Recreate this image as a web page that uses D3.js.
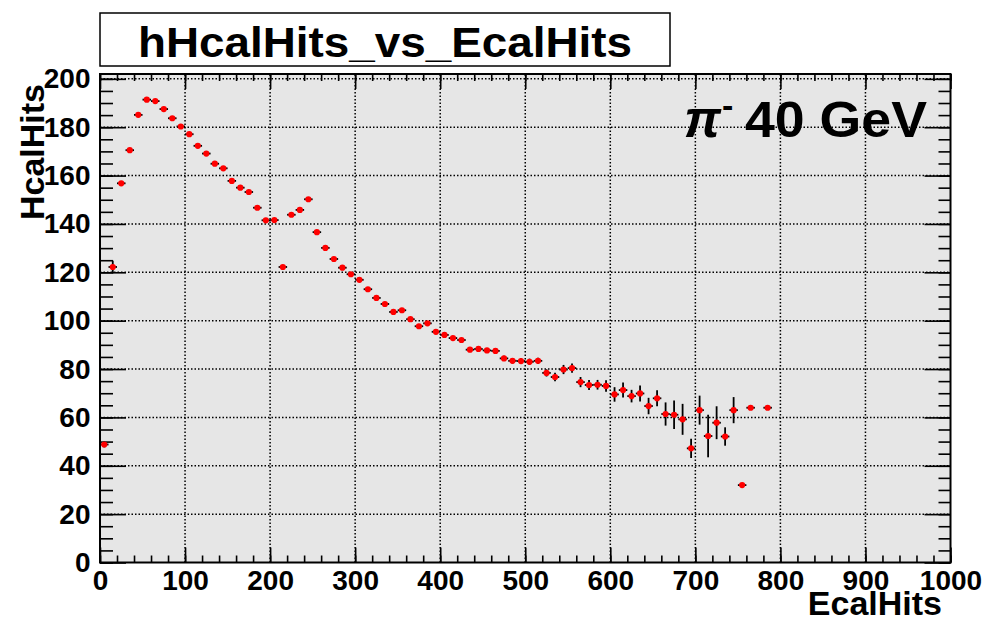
<!DOCTYPE html>
<html>
<head>
<meta charset="utf-8">
<script src="https://cdn.jsdelivr.net/npm/d3@7"></script>
<style>
  body { margin: 0; background: #fff; }
  text { font-family: "Liberation Sans", Arial, sans-serif; font-weight: bold; fill: #000; }
</style>
</head>
<body>
<div id="chart"></div>
<script>
// profile bins: centre of each EcalHits bin (width 10), mean HcalHits and its error
const binWidth = 10;
const ecalBins = [5, 15, 25, 35, 45, 55, 65, 75, 85, 95,
  105, 115, 125, 135, 145, 155, 165, 175, 185, 195,
  205, 215, 225, 235, 245, 255, 265, 275, 285, 295,
  305, 315, 325, 335, 345, 355, 365, 375, 385, 395,
  405, 415, 425, 435, 445, 455, 465, 475, 485, 495,
  505, 515, 525, 535, 545, 555, 565, 575, 585, 595,
  605, 615, 625, 635, 645, 655, 665, 675, 685, 695,
  705, 715, 725, 735, 745, 755, 765, 785];
const hcalMeans = [48.8, 122.2, 156.8, 170.5, 185.1, 191.4, 190.8, 187.5, 183.7, 180.3,
  177.1, 172.3, 169.1, 164.9, 163.0, 157.8, 155.0, 153.2, 146.7, 141.5,
  141.6, 122.2, 143.8, 145.8, 150.2, 136.6, 130.1, 125.5, 121.9, 119.2,
  116.9, 113.0, 109.4, 106.9, 103.6, 104.3, 100.6, 97.7, 98.9, 95.4,
  94.1, 92.8, 92.0, 88.0, 88.3, 87.7, 87.5, 84.4, 83.4, 83.3,
  83.0, 83.4, 78.4, 76.7, 79.8, 80.4, 74.6, 73.4, 73.5, 73.0,
  69.5, 71.3, 68.8, 69.9, 64.7, 67.9, 61.4, 61.1, 59.2, 47.2,
  63.0, 52.3, 57.8, 52.1, 63.0, 32.0, 64.0, 64.0];
const hcalErrors = [1.2, 2.6, 0.8, 0.8, 0.7, 0.6, 0.6, 0.6, 0.6, 0.6,
  0.6, 0.6, 0.6, 0.6, 0.6, 0.6, 0.7, 0.7, 0.7, 0.7,
  0.8, 0.8, 0.8, 0.8, 0.8, 0.8, 0.8, 0.8, 0.8, 0.8,
  0.8, 0.8, 0.8, 0.8, 0.8, 0.8, 0.9, 0.9, 0.9, 0.9,
  0.9, 0.9, 0.9, 1.0, 1.0, 1.0, 1.0, 1.1, 1.1, 1.2,
  1.3, 1.3, 1.5, 1.8, 1.9, 1.9, 2.1, 2.1, 2.0, 2.4,
  3.0, 3.1, 2.6, 3.3, 3.4, 3.3, 4.8, 5.9, 6.4, 4.0,
  6.0, 8.8, 6.8, 3.8, 5.4, 0, 0, 0];

// axis ticks
const xMajor = [0, 100, 200, 300, 400, 500, 600, 700, 800, 900, 1000];
const xMinor = d3.range(0, 1001, 20);
const yMajor = [0, 20, 40, 60, 80, 100, 120, 140, 160, 180, 200];
const yMinor = d3.range(0, 202, 5);
const xRange = [0, 1000];
const yRange = [0, 202];

const titleText = "hHcalHits_vs_EcalHits";
const xTitle = "EcalHits";
const yTitle = "HcalHits";

const width = 986, height = 621;
const margin = { top: 74, right: 35.5, bottom: 58.5, left: 100 };

const svg = d3.select("#chart").append("svg")
  .attr("width", width)
  .attr("height", height);

svg.append("rect").attr("width", width).attr("height", height).attr("fill", "#fff");

const x = d3.scaleLinear().domain(xRange).range([margin.left, width - margin.right]);
const y = d3.scaleLinear().domain(yRange).range([height - margin.bottom, margin.top]);

// frame background
svg.append("rect")
  .attr("x", x(xRange[0])).attr("y", y(yRange[1]))
  .attr("width", x(xRange[1]) - x(xRange[0]))
  .attr("height", y(yRange[0]) - y(yRange[1]))
  .attr("fill", "#e6e6e6");

// dotted grid
const grid = svg.append("g").attr("stroke", "#000").attr("stroke-width", 1.5)
  .attr("stroke-dasharray", "1.5,2");
grid.selectAll(".gx").data(xMajor.filter(d => d > xRange[0] && d < xRange[1]))
  .enter().append("line")
  .attr("x1", d => x(d)).attr("x2", d => x(d))
  .attr("y1", y(yRange[0])).attr("y2", y(yRange[1]));
grid.selectAll(".gy").data(yMajor.filter(d => d > yRange[0]))
  .enter().append("line")
  .attr("x1", x(xRange[0])).attr("x2", x(xRange[1]))
  .attr("y1", d => y(d)).attr("y2", d => y(d));

// axes, ticks drawn inwards on all four sides
function drawAxis(axis, tx, ty, labels) {
  const g = svg.append("g")
    .attr("transform", "translate(" + tx + "," + ty + ")")
    .call(axis);
  g.select(".domain").remove();
  g.selectAll(".tick line").attr("stroke", "#000").attr("stroke-width", 1.6);
  if (labels) {
    g.selectAll(".tick text")
      .attr("font-family", "Liberation Sans, Arial, sans-serif")
      .attr("font-weight", "bold")
      .attr("font-size", 28)
      .attr("fill", "#000");
  } else {
    g.selectAll(".tick text").remove();
  }
  return g;
}
const x0 = x(xRange[0]), x1 = x(xRange[1]), y0 = y(yRange[0]), y1 = y(yRange[1]);

drawAxis(d3.axisBottom(x).tickValues(xMinor).tickSize(-7), 0, y0, false);
drawAxis(d3.axisBottom(x).tickValues(xMajor).tickSize(-15).tickPadding(7.5).tickFormat(d3.format("d")), 0, y0, true);
drawAxis(d3.axisTop(x).tickValues(xMinor).tickSize(-7), 0, y1, false);
drawAxis(d3.axisTop(x).tickValues(xMajor).tickSize(-15), 0, y1, false);
drawAxis(d3.axisLeft(y).tickValues(yMinor).tickSize(-13), x0, 0, false);
drawAxis(d3.axisLeft(y).tickValues(yMajor).tickSize(-26).tickPadding(9.5).tickFormat(d3.format("d")), x0, 0, true);
drawAxis(d3.axisRight(y).tickValues(yMinor).tickSize(-12), x1, 0, false);
drawAxis(d3.axisRight(y).tickValues(yMajor).tickSize(-26), x1, 0, false);

// frame border
svg.append("rect")
  .attr("x", x0).attr("y", y1)
  .attr("width", x1 - x0).attr("height", y0 - y1)
  .attr("fill", "none").attr("stroke", "#000").attr("stroke-width", 2);

// profile points with error bars
const points = ecalBins.map((c, i) => ({ c: c, v: hcalMeans[i], e: hcalErrors[i] }));
const pts = svg.append("g").selectAll("g").data(points).enter().append("g");
pts.append("line")
  .attr("x1", d => x(d.c - binWidth / 2)).attr("x2", d => x(d.c + binWidth / 2))
  .attr("y1", d => y(d.v)).attr("y2", d => y(d.v))
  .attr("stroke", "#000").attr("stroke-width", 1.8);
pts.filter(d => d.e > 0).append("line")
  .attr("x1", d => x(d.c)).attr("x2", d => x(d.c))
  .attr("y1", d => y(d.v - d.e)).attr("y2", d => y(d.v + d.e))
  .attr("stroke", "#000").attr("stroke-width", 1.8);
pts.append("circle")
  .attr("cx", d => x(d.c)).attr("cy", d => y(d.v))
  .attr("r", 3.1)
  .attr("fill", "#ff0000");

// title box
svg.append("rect")
  .attr("x", 100).attr("y", 13).attr("width", 570).attr("height", 53)
  .attr("fill", "#fff").attr("stroke", "#000").attr("stroke-width", 1.5);
svg.append("text")
  .attr("x", 385).attr("y", 57)
  .attr("text-anchor", "middle")
  .attr("font-size", 42)
  .attr("textLength", 494).attr("lengthAdjust", "spacingAndGlyphs")
  .text(titleText);

// axis titles
svg.append("text")
  .attr("text-anchor", "end")
  .attr("x", 942).attr("y", 615)
  .attr("font-size", 34)
  .text(xTitle);
svg.append("text")
  .attr("text-anchor", "end")
  .attr("transform", "translate(44,84) rotate(-90)")
  .attr("font-size", 34)
  .text(yTitle);

// beam label
svg.append("text")
  .attr("x", 684).attr("y", 137)
  .attr("font-family", "Liberation Serif, Times New Roman, serif")
  .attr("font-style", "italic").attr("font-weight", "normal")
  .attr("font-size", 52)
  .text("\u03c0");
svg.append("text")
  .attr("x", 722).attr("y", 117)
  .attr("font-size", 34)
  .text("-");
svg.append("text")
  .attr("x", 745).attr("y", 137)
  .attr("font-size", 50)
  .attr("textLength", 182).attr("lengthAdjust", "spacingAndGlyphs")
  .text("40 GeV");
</script>
</body>
</html>
